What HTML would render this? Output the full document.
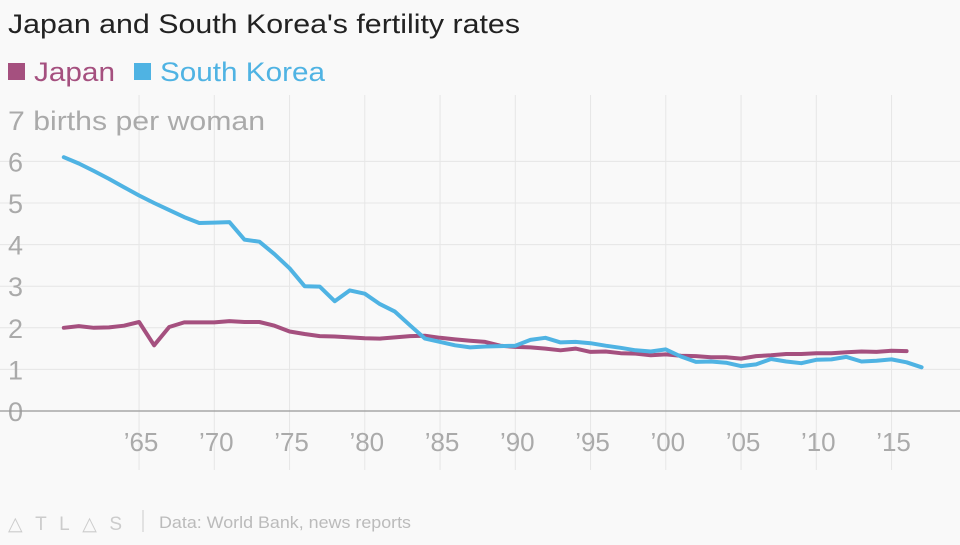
<!DOCTYPE html>
<html><head><meta charset="utf-8"><style>
body{margin:0;width:960px;height:540px;background:#f9f9f9;font-family:"Liberation Sans",sans-serif;overflow:hidden}
</style></head><body>
<svg width="960" height="540" xmlns="http://www.w3.org/2000/svg">
<text x="8" y="33" font-size="27" fill="#222" textLength="512" lengthAdjust="spacingAndGlyphs">Japan and South Korea's fertility rates</text>
<g>
<rect x="8" y="63" width="17" height="17" fill="#a5507f"/>
<text x="34" y="81" font-size="27" fill="#a5507f" textLength="81" lengthAdjust="spacingAndGlyphs">Japan</text>
<rect x="134" y="63" width="17" height="17" fill="#4fb3e3"/>
<text x="160" y="81" font-size="27" fill="#4fb3e3" textLength="165" lengthAdjust="spacingAndGlyphs">South Korea</text>
</g>
<g id="grid"></g><g id="axes"></g><g id="lines"></g>
<text x="8" y="530" font-size="19" fill="#ccc" textLength="114" lengthAdjust="spacing">△TL△S</text>
<line x1="143" y1="510" x2="143" y2="532" stroke="#ccc"/>
<text x="159" y="528" font-size="17" fill="#bbb" textLength="252" lengthAdjust="spacingAndGlyphs">Data: World Bank, news reports</text>
</svg>
<script>
const years=[];for(let y=1960;y<=2017;y++)years.push(y);
const korea=[6.1,5.95,5.77,5.58,5.38,5.18,5.0,4.83,4.66,4.52,4.53,4.54,4.12,4.07,3.77,3.43,3.0,2.99,2.64,2.9,2.82,2.57,2.39,2.06,1.74,1.66,1.58,1.53,1.55,1.56,1.57,1.71,1.76,1.65,1.66,1.63,1.57,1.52,1.46,1.43,1.48,1.31,1.18,1.19,1.16,1.08,1.12,1.25,1.19,1.15,1.23,1.24,1.30,1.19,1.21,1.24,1.17,1.05];
const japan=[2.0,2.04,2.0,2.01,2.05,2.14,1.58,2.02,2.13,2.13,2.13,2.16,2.14,2.14,2.05,1.91,1.85,1.8,1.79,1.77,1.75,1.74,1.77,1.8,1.81,1.76,1.72,1.69,1.66,1.57,1.54,1.53,1.5,1.46,1.5,1.42,1.43,1.39,1.38,1.34,1.36,1.33,1.32,1.29,1.29,1.26,1.32,1.34,1.37,1.37,1.39,1.39,1.41,1.43,1.42,1.45,1.44];
const yTicks=[0,1,2,3,4,5,6,7];
const xTicks=[1965,1970,1975,1980,1985,1990,1995,2000,2005,2010,2015];
const xTickLabels=["’65","’70","’75","’80","’85","’90","’95","’00","’05","’10","’15"];
const X=y=>63.8+(y-1960)*15.05, Y=v=>411-v*41.6;
const NS="http://www.w3.org/2000/svg";
function mk(t,a,p){const e=document.createElementNS(NS,t);for(const k in a)e.setAttribute(k,a[k]);p.appendChild(e);return e;}
const grid=document.getElementById('grid'),axes=document.getElementById('axes'),lines=document.getElementById('lines');
yTicks.forEach(v=>{
 if(v>0&&v<7){const l=mk('line',{x1:0,x2:960,y1:Y(v),y2:Y(v),stroke:'#e6e6e6'},grid);
 
 }
 const a={x:8,y:Y(v)+10,'font-size':27,fill:'#aaa'};
 if(v===7){a.textLength=257;a.lengthAdjust='spacingAndGlyphs';}
 const t=mk('text',a,axes);
 t.textContent=v===7?'7 births per woman':String(v);
 
 
});
xTicks.forEach((yr,i)=>{
 const l=mk('line',{x1:X(yr),x2:X(yr),y1:95,y2:470,stroke:'#e6e6e6'},grid);
 
 
 const t=mk('text',{x:X(yr)+2,y:451,'font-size':26,fill:'#aaa','text-anchor':'middle'},axes);
 t.textContent=xTickLabels[i];
 
 
});
const base=mk('line',{x1:0,x2:960,y1:Y(0),y2:Y(0),stroke:'#999','stroke-width':1.2},axes);


function line(data,color,name){
 const p=mk('path',{d:data.map((v,i)=>(i?'L':'M')+X(years[i]).toFixed(1)+' '+Y(v).toFixed(1)).join(''),fill:'none',stroke:color,'stroke-width':4,'stroke-linejoin':'round','stroke-linecap':'round'},lines);
 
 
}
line(japan,'#a5507f','japan-line');
line(korea,'#4fb3e3','south-korea-line');
</script>
</body></html>
